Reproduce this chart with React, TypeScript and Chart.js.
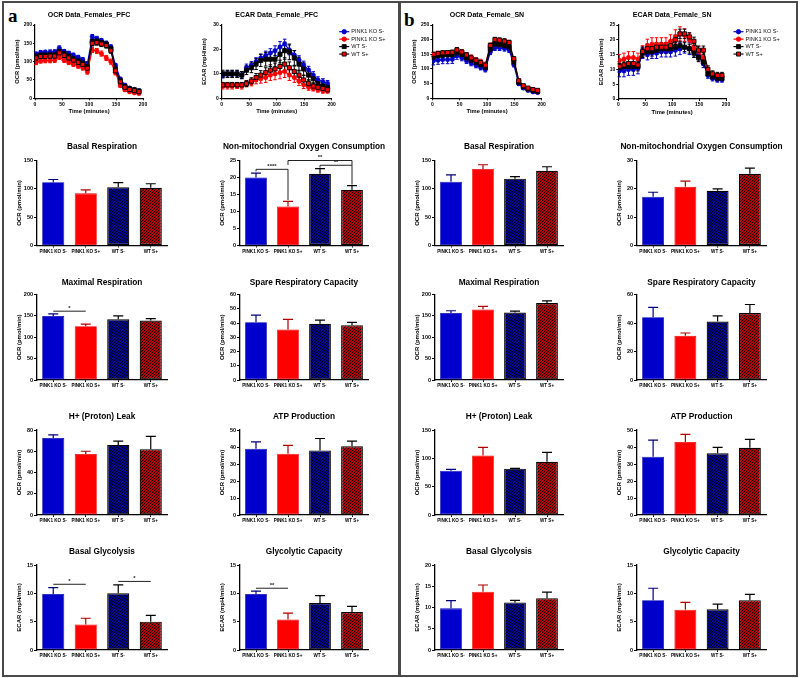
import React, { useEffect, useRef } from 'react';
import { Chart, registerables } from 'chart.js';

Chart.register(...registerables);

const FONT = "'Liberation Sans', Arial, Helvetica, sans-serif";
const BLUE = '#0000CC';
const RED = '#FF0000';

// ---------------- DATA ----------------
const GROUPS = ['PINK1 KO S-', 'PINK1 KO S+', 'WT S-', 'WT S+'];
const SERIES_LABELS = ['PINK1 KO S-', 'PINK1 KO S+', 'WT S-', 'WT S+'];
const TIME = [2, 10.5, 19, 28, 36.5, 45, 54, 62.5, 71, 80, 88.5, 97, 106, 114.5, 123, 132, 140.5, 149, 158, 166.5, 175, 184, 192.5];
const TIME_TICKS = [0, 50, 100, 150, 200];

// Panel a: PFC OCR
const PFC_OCR_KO_SM = [121, 125, 126, 126, 127, 137, 128, 123, 118, 112, 105, 94, 168, 163, 158, 150, 140, 90, 53, 36, 28, 24, 21];
const PFC_OCR_KO_SP = [98, 102, 103, 103, 104, 113, 104, 98, 93, 88, 83, 72, 132, 129, 122, 110, 100, 70, 35, 23, 18, 15, 13];
const PFC_OCR_WT_SM = [115, 118, 118, 119, 119, 128, 122, 115, 108, 102, 96, 86, 155, 156, 152, 148, 135, 80, 48, 32, 26, 23, 20];
const PFC_OCR_WT_SP = [110, 114, 114, 115, 115, 124, 117, 110, 104, 98, 92, 82, 150, 152, 148, 144, 130, 75, 45, 30, 24, 21, 18];
const PFC_OCR_KO_SM_ERR = [5, 5, 5, 6, 5, 6, 5, 5, 5, 5, 6, 6, 6, 6, 5, 6, 6, 5, 4, 3, 3, 3, 3];
const PFC_OCR_KO_SP_ERR = [6, 6, 6, 6, 6, 7, 6, 6, 6, 6, 6, 6, 7, 7, 7, 7, 7, 6, 5, 4, 3, 3, 3];
const PFC_OCR_WT_SM_ERR = [6, 6, 6, 6, 6, 7, 6, 6, 6, 6, 6, 6, 7, 7, 7, 7, 7, 6, 5, 4, 3, 3, 3];
const PFC_OCR_WT_SP_ERR = [6, 6, 6, 6, 6, 7, 6, 6, 6, 6, 6, 6, 7, 7, 7, 7, 7, 6, 5, 4, 3, 3, 3];
const PFC_OCR_TICKS = [0, 50, 100, 150, 200];

// Panel a: PFC ECAR
const PFC_ECAR_KO_SM = [9.5, 10, 10, 10, 9.5, 12.5, 13.5, 15, 16.5, 17.5, 18.5, 19.5, 21, 22.2, 19.8, 17.7, 15.7, 13.6, 11.6, 9.5, 7.5, 6.8, 6.1];
const PFC_ECAR_KO_SP = [5, 5, 5, 5.2, 5, 6, 6.5, 7.5, 8, 8.5, 9.5, 10, 10.5, 11, 9.5, 8.5, 7, 5.5, 4.5, 4, 3.5, 3, 3];
const PFC_ECAR_WT_SM = [10, 10, 10, 10, 9.5, 11.5, 12.5, 14, 15.5, 16, 16, 16, 18, 19.5, 19, 16.5, 14, 12, 9.5, 8, 6, 5, 4.5];
const PFC_ECAR_WT_SP = [5.5, 5.5, 5.5, 5.5, 5.5, 6, 7, 8.5, 9.5, 10.5, 11.5, 12, 13, 14, 12.5, 11, 9.5, 7.5, 6, 5, 4.5, 4, 3.5];
const PFC_ECAR_KO_SM_ERR = [1.2, 1.3, 1.3, 1.3, 1.4, 1.5, 1.5, 1.6, 1.6, 1.8, 1.8, 2, 2.2, 2, 2, 1.8, 1.7, 1.6, 1.5, 1.4, 1.3, 1.2, 1.2];
const PFC_ECAR_KO_SP_ERR = [1.2, 1.2, 1.2, 1.2, 1.2, 1.3, 1.4, 1.6, 1.8, 2, 2.2, 2.4, 2.5, 2.5, 2.2, 2, 1.8, 1.5, 1.2, 1, 1, 0.9, 0.9];
const PFC_ECAR_WT_SM_ERR = [1.5, 1.5, 1.5, 1.5, 1.5, 1.8, 2, 2.2, 2.5, 2.8, 3, 3.2, 3.5, 3.5, 3.2, 3, 2.8, 2.5, 2, 1.8, 1.5, 1.3, 1.2];
const PFC_ECAR_WT_SP_ERR = [1, 1, 1, 1, 1, 1.2, 1.4, 1.6, 1.8, 2, 2.2, 2.4, 2.6, 2.6, 2.4, 2.2, 2, 1.8, 1.5, 1.3, 1.1, 1, 1];
const PFC_ECAR_TICKS = [0, 10, 20, 30];

// Panel b: SN OCR
const SN_OCR_KO_SM = [128, 130, 132, 132, 133, 145, 138, 128, 120, 112, 105, 98, 158, 172, 172, 170, 165, 115, 50, 35, 27, 22, 20];
const SN_OCR_KO_SP = [148, 152, 154, 155, 155, 163, 158, 148, 140, 130, 125, 115, 178, 185, 183, 180, 175, 130, 60, 40, 32, 28, 25];
const SN_OCR_WT_SM = [140, 145, 147, 148, 148, 155, 150, 138, 130, 122, 115, 105, 168, 185, 183, 180, 175, 125, 55, 40, 32, 27, 24];
const SN_OCR_WT_SP = [150, 153, 155, 156, 157, 165, 158, 148, 138, 130, 122, 113, 180, 200, 198, 195, 190, 135, 60, 43, 35, 30, 27];
const SN_OCR_KO_SM_ERR = [14, 14, 14, 14, 14, 12, 10, 9, 9, 8, 8, 8, 9, 9, 9, 9, 9, 8, 6, 5, 4, 4, 4];
const SN_OCR_KO_SP_ERR = [8, 8, 8, 8, 8, 9, 8, 8, 8, 8, 8, 8, 10, 10, 10, 10, 10, 9, 6, 5, 4, 4, 4];
const SN_OCR_WT_SM_ERR = [6, 6, 6, 6, 6, 6, 6, 6, 6, 6, 6, 6, 7, 7, 7, 7, 7, 6, 5, 4, 3, 3, 3];
const SN_OCR_WT_SP_ERR = [7, 7, 7, 7, 7, 8, 7, 7, 7, 7, 7, 7, 8, 8, 8, 8, 8, 7, 5, 4, 4, 3, 3];
const SN_OCR_TICKS = [0, 50, 100, 150, 200, 250];

// Panel b: SN ECAR
const SN_ECAR_KO_SM = [9.5, 9.5, 10, 10, 10.5, 15.5, 15, 15.5, 15.5, 16, 16, 16, 16.5, 17, 17.5, 17, 16, 14.5, 12, 8, 7, 6.5, 6.5];
const SN_ECAR_KO_SP = [13, 13.5, 14, 14, 13.5, 16, 18, 18.5, 18.5, 18.5, 18.5, 19.5, 21, 22, 21.5, 20, 17, 16, 14, 9, 8, 7.5, 7.5];
const SN_ECAR_WT_SM = [10.5, 11, 11, 11, 11, 15.5, 16, 16, 16.5, 17, 17, 17, 17.5, 18, 17.5, 17, 15.5, 14, 12.5, 8.5, 7.5, 7, 7];
const SN_ECAR_WT_SP = [11, 11.5, 12, 12, 11.5, 16, 17, 17, 17.5, 17.5, 17.5, 18, 20, 22, 22, 21, 19.5, 16.5, 16.5, 10, 8.5, 8, 8];
const SN_ECAR_KO_SM_ERR = [2, 2, 2, 2, 2, 1.8, 1.8, 1.8, 1.8, 1.8, 1.8, 1.8, 2, 2, 2, 2, 1.8, 1.6, 1.4, 1, 0.9, 0.8, 0.8];
const SN_ECAR_KO_SP_ERR = [2, 2, 2, 2, 2, 2, 2.2, 2.2, 2.2, 2.2, 2.2, 2.2, 2.4, 2.4, 2.2, 2.2, 2, 1.8, 1.6, 1.2, 1, 1, 1];
const SN_ECAR_WT_SM_ERR = [1.5, 1.5, 1.5, 1.5, 1.5, 1.5, 1.5, 1.5, 1.5, 1.5, 1.5, 1.5, 1.5, 1.5, 1.5, 1.5, 1.5, 1.4, 1.2, 1, 0.8, 0.8, 0.8];
const SN_ECAR_WT_SP_ERR = [1.6, 1.6, 1.6, 1.6, 1.6, 1.6, 1.6, 1.6, 1.6, 1.6, 1.6, 1.6, 1.6, 1.6, 1.6, 1.4, 1.4, 1.4, 1.4, 1.2, 1, 1, 1];
const SN_ECAR_TICKS = [0, 5, 10, 15, 20, 25];

// Bar panels (mean, SEM)
const A_BASAL_RESP = [111.5, 92, 103, 102];
const A_BASAL_RESP_ERR = [5, 6, 8, 7];
const A_NONMITO = [20.0, 11.5, 21.1, 16.4];
const A_NONMITO_ERR = [1.3, 1.5, 1.5, 1.2];
const A_MAX_RESP = [150, 126, 142, 139];
const A_MAX_RESP_ERR = [4.5, 4.5, 8, 4.5];
const A_SPARE = [40.5, 35.5, 39.5, 38.5];
const A_SPARE_ERR = [5, 7, 2.5, 2];
const A_LEAK = [72.5, 57.5, 66, 62];
const A_LEAK_ERR = [3, 2.5, 3.5, 12];
const A_ATP = [39, 36, 38, 40.5];
const A_ATP_ERR = [4, 5, 7, 3];
const A_GLYCO = [9.9, 4.5, 10.0, 5.0];
const A_GLYCO_ERR = [1.1, 1.1, 1.5, 1.1];
const A_GLYCAP = [9.9, 5.4, 8.3, 6.7];
const A_GLYCAP_ERR = [0.5, 1.1, 1.3, 1.0];

const B_BASAL_RESP = [112.5, 135, 118, 132];
const B_BASAL_RESP_ERR = [12, 7.5, 3.5, 7];
const B_NONMITO = [17.2, 20.7, 19.3, 25.3];
const B_NONMITO_ERR = [1.6, 2.0, 0.7, 2.0];
const B_MAX_RESP = [157, 165, 158, 180];
const B_MAX_RESP_ERR = [5, 7, 3, 5];
const B_SPARE = [44, 31, 41, 47];
const B_SPARE_ERR = [7, 2, 4, 6];
const B_LEAK = [78, 105, 81.8, 94];
const B_LEAK_ERR = [2.6, 14.5, 0.5, 16.6];
const B_ATP = [34.3, 42.9, 36.3, 39.6];
const B_ATP_ERR = [9.8, 4.5, 3.5, 4.9];
const B_GLYCO = [9.8, 13.7, 11.2, 12.2];
const B_GLYCO_ERR = [1.8, 1.6, 0.5, 1.4];
const B_GLYCAP = [8.8, 7.1, 7.2, 8.8];
const B_GLYCAP_ERR = [2.1, 1.3, 0.9, 1.0];

const TICKS_0_150 = [0, 50, 100, 150];
const TICKS_0_25 = [0, 5, 10, 15, 20, 25];
const TICKS_0_200 = [0, 50, 100, 150, 200];
const TICKS_0_60_BY10 = [0, 10, 20, 30, 40, 50, 60];
const TICKS_0_80 = [0, 20, 40, 60, 80];
const TICKS_0_50 = [0, 10, 20, 30, 40, 50];
const TICKS_0_15 = [0, 5, 10, 15];
const TICKS_0_30 = [0, 10, 20, 30];
const TICKS_0_60_BY20 = [0, 20, 40, 60];
const TICKS_0_20 = [0, 5, 10, 15, 20];

// ---------------- LAYOUT ----------------
type Sig = { i: number; j: number; y: number; yi: number; yj: number; text: string };

const ROWS = [
  { ty: 147, T: 160.5, B: 245.5 },
  { ty: 283, T: 294.5, B: 380 },
  { ty: 417, T: 430, B: 515 },
  { ty: 552, T: 565, B: 650 },
];
const COLS = [
  { L: 37, R: 167 },
  { L: 240, R: 368 },
  { L: 435, R: 563 },
  { L: 637, R: 766 },
];

interface Geo { left: number; top: number; width: number; height: number; wy: number; hx: number; padR: number; padT: number; titleY: number; }

function geo(L: number, T: number, R: number, B: number, ty: number, yx: number, tSize: number, ySize: number, xy: number | null, xSize: number, padR0: number): Geo {
  const yLH = ySize * 1.2;
  const left = Math.floor(yx - yLH / 2);
  const wy = L - left;
  const top = Math.floor(ty - 2 - tSize * 0.6);
  const padT = T - top;
  const titleY = ty - top;
  const hx0 = xy !== null ? xy - B + (xSize * 1.2) / 2 : 12;
  const width = Math.ceil(R + padR0 - left);
  const padR = width - (R - left);
  const height = Math.ceil(B + hx0 - top);
  const hx = height - (B - top);
  return { left, top, width, height, wy, hx, padR, padT, titleY };
}

function titlePlugin(text: string, size: number, g: Geo): any {
  return {
    id: 'panelTitle',
    afterDraw(chart: any) {
      const ctx = chart.ctx;
      const { left, right } = chart.chartArea;
      ctx.save();
      ctx.fillStyle = '#000';
      ctx.font = `bold ${size}px ${FONT}`;
      ctx.textAlign = 'center';
      ctx.textBaseline = 'middle';
      ctx.fillText(text, (left + right) / 2, g.titleY);
      ctx.restore();
    },
  };
}

function makeHatch(color: string): any {
  const c = document.createElement('canvas');
  const s = 3;
  c.width = s;
  c.height = s;
  const g = c.getContext('2d')!;
  g.fillStyle = color;
  g.fillRect(0, 0, s, s);
  g.strokeStyle = '#000';
  g.lineWidth = 1.1;
  g.beginPath();
  g.moveTo(0, s); g.lineTo(s, 0);
  g.moveTo(-1, 1); g.lineTo(1, -1);
  g.moveTo(s - 1, s + 1); g.lineTo(s + 1, s - 1);
  g.stroke();
  return g.createPattern(c, 'repeat');
}

// ---------------- BAR CHARTS ----------------
type BarSpec = { title: string; yTitle: string; ticks: number[]; values: number[]; errors: number[]; col: number; row: number; sigs: Sig[] };

const BAR_SPECS: BarSpec[] = [
  { title: 'Basal Respiration', yTitle: 'OCR (pmol/min)', ticks: TICKS_0_150, values: A_BASAL_RESP, errors: A_BASAL_RESP_ERR, col: 0, row: 0, sigs: [] },
  { title: 'Non-mitochondrial Oxygen Consumption', yTitle: 'OCR (pmol/min)', ticks: TICKS_0_25, values: A_NONMITO, errors: A_NONMITO_ERR, col: 1, row: 0, sigs: [
    { i: 0, j: 1, y: 22.4, yi: 21.8, yj: 13.4, text: '****' },
    { i: 1, j: 3, y: 25, yi: 23.7, yj: 23.6, text: '**' },
    { i: 2, j: 3, y: 23.6, yi: 22.9, yj: 17.9, text: '**' },
  ] },
  { title: 'Maximal Respiration', yTitle: 'OCR (pmol/min)', ticks: TICKS_0_200, values: A_MAX_RESP, errors: A_MAX_RESP_ERR, col: 0, row: 1, sigs: [
    { i: 0, j: 1, y: 161, yi: 161, yj: 161, text: '*' },
  ] },
  { title: 'Spare Respiratory Capacity', yTitle: 'OCR (pmol/min)', ticks: TICKS_0_60_BY10, values: A_SPARE, errors: A_SPARE_ERR, col: 1, row: 1, sigs: [] },
  { title: 'H+ (Proton) Leak', yTitle: 'OCR (pmol/min)', ticks: TICKS_0_80, values: A_LEAK, errors: A_LEAK_ERR, col: 0, row: 2, sigs: [] },
  { title: 'ATP Production', yTitle: 'OCR (pmol/min)', ticks: TICKS_0_50, values: A_ATP, errors: A_ATP_ERR, col: 1, row: 2, sigs: [] },
  { title: 'Basal Glycolysis', yTitle: 'ECAR (mpH/min)', ticks: TICKS_0_15, values: A_GLYCO, errors: A_GLYCO_ERR, col: 0, row: 3, sigs: [
    { i: 0, j: 1, y: 11.6, yi: 11.6, yj: 11.6, text: '*' },
    { i: 2, j: 3, y: 12.1, yi: 12.1, yj: 12.1, text: '*' },
  ] },
  { title: 'Glycolytic Capacity', yTitle: 'ECAR (mpH/min)', ticks: TICKS_0_15, values: A_GLYCAP, errors: A_GLYCAP_ERR, col: 1, row: 3, sigs: [
    { i: 0, j: 1, y: 10.9, yi: 10.9, yj: 10.9, text: '**' },
  ] },
  { title: 'Basal Respiration', yTitle: 'OCR (pmol/min)', ticks: TICKS_0_150, values: B_BASAL_RESP, errors: B_BASAL_RESP_ERR, col: 2, row: 0, sigs: [] },
  { title: 'Non-mitochondrial Oxygen Consumption', yTitle: 'OCR (pmol/min)', ticks: TICKS_0_30, values: B_NONMITO, errors: B_NONMITO_ERR, col: 3, row: 0, sigs: [] },
  { title: 'Maximal Respiration', yTitle: 'OCR (pmol/min)', ticks: TICKS_0_200, values: B_MAX_RESP, errors: B_MAX_RESP_ERR, col: 2, row: 1, sigs: [] },
  { title: 'Spare Respiratory Capacity', yTitle: 'OCR (pmol/min)', ticks: TICKS_0_60_BY20, values: B_SPARE, errors: B_SPARE_ERR, col: 3, row: 1, sigs: [] },
  { title: 'H+ (Proton) Leak', yTitle: 'OCR (pmol/min)', ticks: TICKS_0_150, values: B_LEAK, errors: B_LEAK_ERR, col: 2, row: 2, sigs: [] },
  { title: 'ATP Production', yTitle: 'OCR (pmol/min)', ticks: TICKS_0_50, values: B_ATP, errors: B_ATP_ERR, col: 3, row: 2, sigs: [] },
  { title: 'Basal Glycolysis', yTitle: 'ECAR (mpH/min)', ticks: TICKS_0_20, values: B_GLYCO, errors: B_GLYCO_ERR, col: 2, row: 3, sigs: [] },
  { title: 'Glycolytic Capacity', yTitle: 'ECAR (mpH/min)', ticks: TICKS_0_15, values: B_GLYCAP, errors: B_GLYCAP_ERR, col: 3, row: 3, sigs: [] },
];

const BAR_TITLE = 8.3;
const BAR_YTITLE = 6;

function barGeo(s: BarSpec): Geo {
  const r = ROWS[s.row];
  const c = COLS[s.col];
  return geo(c.L, r.T, c.R, r.B, r.ty, c.L - 17, BAR_TITLE, BAR_YTITLE, null, 5, 26);
}

function barConfig(s: BarSpec, g: Geo): any {
  const hatchBlue = makeHatch(BLUE);
  const hatchRed = makeHatch(RED);
  const errColors = ['#00007A', '#B00000', '#000', '#000'];
  const errPlugin = {
    id: 'errbars',
    afterDatasetsDraw(chart: any) {
      const meta = chart.getDatasetMeta(0);
      const ys = chart.scales.y;
      const ctx = chart.ctx;
      ctx.save();
      ctx.lineWidth = 1.2;
      meta.data.forEach((bar: any, i: number) => {
        const v = s.values[i];
        const base = ys.getPixelForValue(v);
        const top = ys.getPixelForValue(v + s.errors[i]);
        ctx.strokeStyle = errColors[i];
        ctx.beginPath();
        ctx.moveTo(bar.x, base);
        ctx.lineTo(bar.x, top);
        ctx.moveTo(bar.x - 5, top);
        ctx.lineTo(bar.x + 5, top);
        ctx.stroke();
      });
      ctx.restore();
    },
  };
  const sigPlugin = {
    id: 'sigs',
    afterDraw(chart: any) {
      if (!s.sigs.length) return;
      const meta = chart.getDatasetMeta(0);
      const ys = chart.scales.y;
      const ctx = chart.ctx;
      ctx.save();
      ctx.strokeStyle = '#222';
      ctx.fillStyle = '#222';
      ctx.lineWidth = 1;
      ctx.font = `bold 6px ${FONT}`;
      ctx.textAlign = 'center';
      ctx.textBaseline = 'alphabetic';
      s.sigs.forEach((q) => {
        const xi = meta.data[q.i].x;
        const xj = meta.data[q.j].x;
        const y = ys.getPixelForValue(q.y);
        ctx.beginPath();
        ctx.moveTo(xi, ys.getPixelForValue(q.yi));
        ctx.lineTo(xi, y);
        ctx.lineTo(xj, y);
        ctx.lineTo(xj, ys.getPixelForValue(q.yj));
        ctx.stroke();
        ctx.fillText(q.text, (xi + xj) / 2, y - 1.2);
      });
      ctx.restore();
    },
  };
  const max = s.ticks[s.ticks.length - 1];
  const step = s.ticks[1] - s.ticks[0];
  return {
    type: 'bar',
    data: {
      labels: GROUPS,
      datasets: [{
        data: s.values,
        backgroundColor: [BLUE, RED, hatchBlue, hatchRed],
        borderColor: ['#0000AA', '#EE0000', '#000', '#000'],
        borderWidth: [0.8, 0.8, 1.2, 1.2],
        borderSkipped: false,
        barPercentage: 0.68,
        categoryPercentage: 1,
      }],
    },
    options: {
      animation: false,
      responsive: false,
      devicePixelRatio: 1,
      events: [],
      layout: { autoPadding: false, padding: { left: 0, top: g.padT, right: g.padR, bottom: 0 } },
      plugins: {
        legend: { display: false },
        tooltip: { enabled: false },
        title: { display: false },
      },
      scales: {
        x: {
          grid: { display: true, drawOnChartArea: false, drawTicks: true, tickLength: 2, color: '#000', lineWidth: 1, offset: false },
          border: { display: true, color: '#000', width: 1.3 },
          ticks: { font: { family: FONT, size: 4.6, weight: 'bold' }, color: '#000', padding: 1, maxRotation: 0, autoSkip: false },
          afterFit: (sc: any) => { sc.height = g.hx; },
        },
        y: {
          min: 0, max,
          grid: { display: true, drawOnChartArea: false, drawTicks: true, tickLength: 3, color: '#000', lineWidth: 1 },
          border: { display: true, color: '#000', width: 1.3 },
          ticks: { stepSize: step, font: { family: FONT, size: 5.5, weight: 'bold' }, color: '#000', padding: 1 },
          title: { display: true, text: s.yTitle, color: '#000', font: { family: FONT, size: BAR_YTITLE, weight: 'bold', lineHeight: 1.2 }, padding: 0 },
          afterFit: (sc: any) => { sc.width = g.wy; },
        },
      },
    },
    plugins: [errPlugin, sigPlugin, titlePlugin(s.title, BAR_TITLE, g)],
  };
}

// ---------------- LINE CHARTS ----------------
const STYLES = [
  { line: BLUE, fill: BLUE, edge: BLUE, shape: 'circle', err: BLUE },
  { line: RED, fill: RED, edge: RED, shape: 'circle', err: RED },
  { line: '#00001A', fill: '#000', edge: '#000', shape: 'rect', err: '#000' },
  { line: '#1A0000', fill: RED, edge: '#000', shape: 'rect', err: '#000' },
];

type LineSpec = {
  title: string; yTitle: string; ticks: number[]; series: number[][]; errors: number[][]; legend: boolean;
  L: number; T: number; R: number; B: number; ty: number; yx: number; xy: number; padR: number;
};

const LINE_SPECS: LineSpec[] = [
  { title: 'OCR Data_Females_PFC', yTitle: 'OCR (pmol/min)', ticks: PFC_OCR_TICKS,
    series: [PFC_OCR_KO_SM, PFC_OCR_KO_SP, PFC_OCR_WT_SM, PFC_OCR_WT_SP],
    errors: [PFC_OCR_KO_SM_ERR, PFC_OCR_KO_SP_ERR, PFC_OCR_WT_SM_ERR, PFC_OCR_WT_SP_ERR], legend: false,
    L: 35, T: 25, R: 143, B: 98.3, ty: 15, yx: 18, xy: 111, padR: 6 },
  { title: 'ECAR Data_Female_PFC', yTitle: 'ECAR (mpH/min)', ticks: PFC_ECAR_TICKS,
    series: [PFC_ECAR_KO_SM, PFC_ECAR_KO_SP, PFC_ECAR_WT_SM, PFC_ECAR_WT_SP],
    errors: [PFC_ECAR_KO_SM_ERR, PFC_ECAR_KO_SP_ERR, PFC_ECAR_WT_SM_ERR, PFC_ECAR_WT_SP_ERR], legend: true,
    L: 221.7, T: 25, R: 331.7, B: 98.3, ty: 15, yx: 205, xy: 111, padR: 66 },
  { title: 'OCR Data_Female_SN', yTitle: 'OCR (pmol/min)', ticks: SN_OCR_TICKS,
    series: [SN_OCR_KO_SM, SN_OCR_KO_SP, SN_OCR_WT_SM, SN_OCR_WT_SP],
    errors: [SN_OCR_KO_SM_ERR, SN_OCR_KO_SP_ERR, SN_OCR_WT_SM_ERR, SN_OCR_WT_SP_ERR], legend: false,
    L: 432.3, T: 25, R: 541.7, B: 98.3, ty: 15, yx: 415, xy: 111, padR: 6 },
  { title: 'ECAR Data_Female_SN', yTitle: 'ECAR (mpH/min)', ticks: SN_ECAR_TICKS,
    series: [SN_ECAR_KO_SM, SN_ECAR_KO_SP, SN_ECAR_WT_SM, SN_ECAR_WT_SP],
    errors: [SN_ECAR_KO_SM_ERR, SN_ECAR_KO_SP_ERR, SN_ECAR_WT_SM_ERR, SN_ECAR_WT_SP_ERR], legend: true,
    L: 618.3, T: 25, R: 726, B: 99, ty: 15, yx: 602, xy: 112, padR: 68 },
];

const LINE_TITLE = 7;
const LINE_AXTITLE = 5.8;

function lineGeo(s: LineSpec): Geo {
  return geo(s.L, s.T, s.R, s.B, s.ty, s.yx, LINE_TITLE, LINE_AXTITLE, s.xy, LINE_AXTITLE, s.padR);
}

function lineConfig(s: LineSpec, g: Geo): any {
  const datasets = s.series.map((vals, k) => {
    const st = STYLES[k];
    return {
      label: SERIES_LABELS[k],
      data: TIME.map((t, i) => ({ x: t, y: vals[i] })),
      borderColor: st.line,
      backgroundColor: st.fill,
      pointBackgroundColor: st.fill,
      pointBorderColor: st.edge,
      pointStyle: st.shape,
      pointRadius: st.shape === 'rect' ? 2.9 : 2.2,
      pointBorderWidth: st.shape === 'rect' ? 0.9 : 0.6,
      borderWidth: 1.2,
      tension: 0,
      order: 3 - k,
    };
  });
  const errPlugin = {
    id: 'lineErr',
    beforeDatasetsDraw(chart: any) {
      const ys = chart.scales.y;
      const ctx = chart.ctx;
      ctx.save();
      ctx.lineWidth = 1;
      s.series.forEach((vals, k) => {
        const meta = chart.getDatasetMeta(k);
        ctx.strokeStyle = STYLES[k].err;
        meta.data.forEach((p: any, i: number) => {
          const lo = ys.getPixelForValue(vals[i] - s.errors[k][i]);
          const hi = ys.getPixelForValue(vals[i] + s.errors[k][i]);
          ctx.beginPath();
          ctx.moveTo(p.x, lo); ctx.lineTo(p.x, hi);
          ctx.moveTo(p.x - 1.8, lo); ctx.lineTo(p.x + 1.8, lo);
          ctx.moveTo(p.x - 1.8, hi); ctx.lineTo(p.x + 1.8, hi);
          ctx.stroke();
        });
      });
      ctx.restore();
    },
  };
  const legendPlugin = {
    id: 'seriesLegend',
    afterDraw(chart: any) {
      if (!s.legend) return;
      const ctx = chart.ctx;
      const { right, top } = chart.chartArea;
      ctx.save();
      SERIES_LABELS.forEach((lab, k) => {
        const st = STYLES[k];
        const y = top + 6.7 + k * 7.45;
        const mx = right + 12.5;
        ctx.strokeStyle = st.line;
        ctx.lineWidth = 1.2;
        ctx.beginPath();
        ctx.moveTo(mx - 5, y); ctx.lineTo(mx + 5, y);
        ctx.stroke();
        ctx.fillStyle = st.fill;
        ctx.strokeStyle = st.edge;
        ctx.lineWidth = 0.9;
        ctx.beginPath();
        if (st.shape === 'rect') {
          ctx.rect(mx - 2, y - 2, 4, 4);
        } else {
          ctx.arc(mx, y, 2.2, 0, Math.PI * 2);
        }
        ctx.fill();
        ctx.stroke();
        ctx.fillStyle = '#111';
        ctx.font = `normal 5.6px ${FONT}`;
        ctx.textAlign = 'left';
        ctx.textBaseline = 'middle';
        ctx.fillText(lab, right + 19.5, y);
      });
      ctx.restore();
    },
  };
  const ymax = s.ticks[s.ticks.length - 1];
  const ystep = s.ticks[1] - s.ticks[0];
  return {
    type: 'line',
    data: { datasets },
    options: {
      animation: false,
      responsive: false,
      devicePixelRatio: 1,
      events: [],
      layout: { autoPadding: false, padding: { left: 0, top: g.padT, right: g.padR, bottom: 0 } },
      plugins: {
        legend: { display: false },
        tooltip: { enabled: false },
        title: { display: false },
      },
      scales: {
        x: {
          type: 'linear', min: TIME_TICKS[0], max: TIME_TICKS[TIME_TICKS.length - 1],
          grid: { display: true, drawOnChartArea: false, drawTicks: true, tickLength: 2, color: '#000', lineWidth: 1 },
          border: { display: true, color: '#000', width: 1.2 },
          ticks: { stepSize: TIME_TICKS[1] - TIME_TICKS[0], font: { family: FONT, size: 5, weight: 'bold' }, color: '#000', padding: 1, maxRotation: 0 },
          title: { display: true, text: 'Time (minutes)', color: '#000', font: { family: FONT, size: LINE_AXTITLE, weight: 'bold', lineHeight: 1.2 }, padding: 0 },
          afterFit: (sc: any) => { sc.height = g.hx; },
        },
        y: {
          min: 0, max: ymax,
          grid: { display: true, drawOnChartArea: false, drawTicks: true, tickLength: 2, color: '#000', lineWidth: 1 },
          border: { display: true, color: '#000', width: 1.2 },
          ticks: { stepSize: ystep, font: { family: FONT, size: 5, weight: 'bold' }, color: '#000', padding: 1 },
          title: { display: true, text: s.yTitle, color: '#000', font: { family: FONT, size: LINE_AXTITLE, weight: 'bold', lineHeight: 1.2 }, padding: 0 },
          afterFit: (sc: any) => { sc.width = g.wy; },
        },
      },
    },
    plugins: [errPlugin, legendPlugin, titlePlugin(s.title, LINE_TITLE, g)],
  };
}

// ---------------- COMPONENTS ----------------
function ChartCanvas({ g, build }: { g: Geo; build: () => any }) {
  const ref = useRef<HTMLCanvasElement | null>(null);
  useEffect(() => {
    if (!ref.current) return;
    const chart = new Chart(ref.current, build());
    return () => chart.destroy();
  }, []);
  return (
    <canvas
      ref={ref}
      width={g.width}
      height={g.height}
      style={{ position: 'absolute', left: g.left, top: g.top, width: g.width, height: g.height }}
    />
  );
}

function BarPanel({ spec }: { spec: BarSpec }) {
  const g = barGeo(spec);
  return <ChartCanvas g={g} build={() => barConfig(spec, g)} />;
}

function LinePanel({ spec }: { spec: LineSpec }) {
  const g = lineGeo(spec);
  return <ChartCanvas g={g} build={() => lineConfig(spec, g)} />;
}

const FRAME = '#4a4a4a';

export default function App() {
  return (
    <div style={{ position: 'absolute', left: 0, top: 0, width: 800, height: 678, background: '#fff', overflow: 'hidden' }}>
      <div style={{ position: 'absolute', left: 2, top: 1, width: 796, height: 676, border: `2px solid ${FRAME}`, boxSizing: 'border-box' }} />
      <div style={{ position: 'absolute', left: 398, top: 1, width: 3, height: 676, background: FRAME }} />
      <div style={{ position: 'absolute', left: 8, top: 6, fontFamily: "'Liberation Serif', 'DejaVu Serif', serif", fontWeight: 'bold', fontSize: 19, lineHeight: '19px' }}>a</div>
      <div style={{ position: 'absolute', left: 404, top: 10, fontFamily: "'Liberation Serif', 'DejaVu Serif', serif", fontWeight: 'bold', fontSize: 19, lineHeight: '19px' }}>b</div>
      {LINE_SPECS.map((s, i) => <LinePanel key={'l' + i} spec={s} />)}
      {BAR_SPECS.map((s, i) => <BarPanel key={'b' + i} spec={s} />)}
    </div>
  );
}
